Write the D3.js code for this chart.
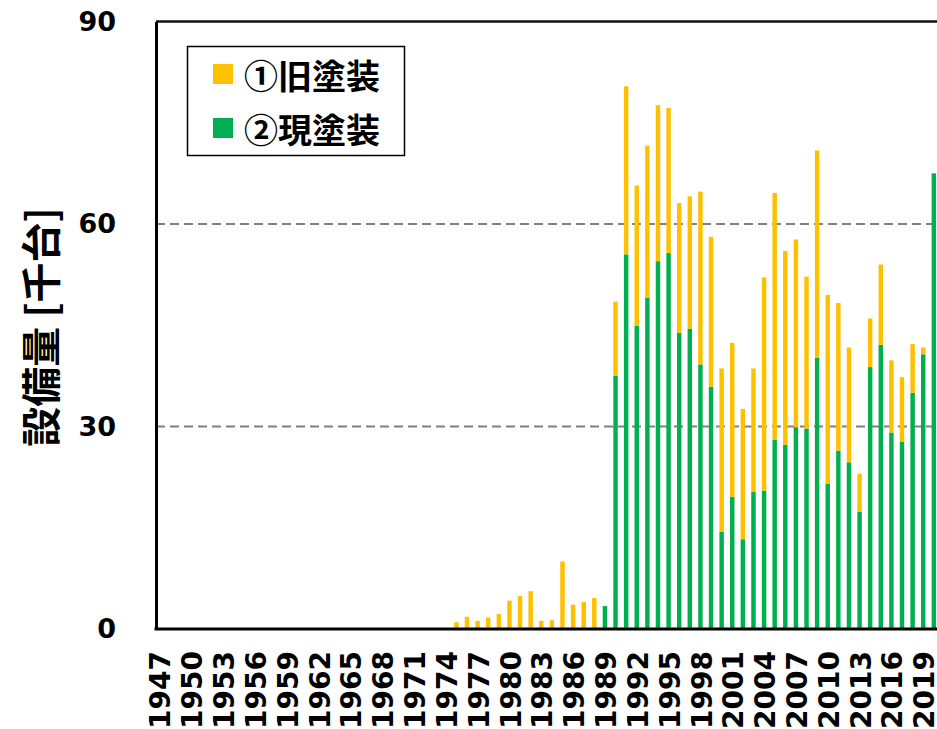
<!DOCTYPE html>
<html>
<head>
<meta charset="utf-8">
<script src="https://cdn.jsdelivr.net/npm/d3@7"></script>
<style>
  html, body { margin: 0; padding: 0; background: #fff; }
  svg { display: block; }
</style>
</head>
<body>
<svg id="chart" width="937" height="729"></svg>
<script>
// Installed equipment per year, thousand units
const years = [
  1947, 1948, 1949, 1950, 1951, 1952, 1953, 1954, 1955, 1956,
  1957, 1958, 1959, 1960, 1961, 1962, 1963, 1964, 1965, 1966,
  1967, 1968, 1969, 1970, 1971, 1972, 1973, 1974, 1975, 1976,
  1977, 1978, 1979, 1980, 1981, 1982, 1983, 1984, 1985, 1986,
  1987, 1988, 1989, 1990, 1991, 1992, 1993, 1994, 1995, 1996,
  1997, 1998, 1999, 2000, 2001, 2002, 2003, 2004, 2005, 2006,
  2007, 2008, 2009, 2010, 2011, 2012, 2013, 2014, 2015, 2016,
  2017, 2018, 2019, 2020
];

// ② current coating (bottom segment)
const currentCoating = [
  0, 0, 0, 0, 0, 0, 0, 0, 0, 0,
  0, 0, 0, 0, 0, 0, 0, 0, 0, 0,
  0, 0, 0, 0, 0, 0, 0, 0, 0, 0,
  0, 0, 0, 0, 0, 0, 0, 0, 0, 0,
  0, 0, 3.4, 37.5, 55.5, 44.9, 49.1, 54.5, 55.7, 43.9,
  44.5, 39.2, 35.9, 14.4, 19.6, 13.3, 20.3, 20.5, 28.0, 27.3,
  29.9, 29.7, 40.2, 21.5, 26.4, 24.7, 17.4, 38.8, 42.1, 29.1,
  27.7, 35.0, 40.7, 67.5
];

// ① old coating (stacked on top)
const oldCoating = [
  0, 0, 0, 0, 0, 0, 0, 0, 0, 0,
  0, 0, 0, 0, 0, 0, 0, 0, 0, 0,
  0, 0, 0, 0, 0, 0, 0, 0, 1.0, 1.8,
  1.2, 1.7, 2.2, 4.2, 4.9, 5.6, 1.2, 1.3, 10.0, 3.6,
  4.0, 4.6, 0, 11.0, 24.9, 20.8, 22.5, 23.1, 21.5, 19.2,
  19.6, 25.6, 22.2, 24.2, 22.8, 19.3, 18.3, 31.6, 36.6, 28.7,
  27.8, 22.5, 30.7, 28.0, 21.9, 17.0, 5.6, 7.2, 11.9, 10.7,
  9.6, 7.2, 1.0, 0
];

const yTicks = [0, 30, 60, 90];
const xTickLabels = [1947, 1950, 1953, 1956, 1959, 1962, 1965, 1968, 1971, 1974,
  1977, 1980, 1983, 1986, 1989, 1992, 1995, 1998, 2001, 2004, 2007, 2010, 2013, 2016, 2019];

const seriesNames = ["①旧塗装", "②現塗装"];
const seriesColors = ["#FFC000", "#00B050"];
const yTitle = "設備量 [千台]";

const rows = years.map((yr, i) => ({ year: yr, current: currentCoating[i], old: oldCoating[i] }));

const svg = d3.select("#chart");
const plot = { left: 156, right: 939, top: 21.5, bottom: 629 };

const x = d3.scaleBand()
  .domain(years)
  .range([154, 154 + years.length * 10.61])
  .paddingInner(0.58)
  .paddingOuter(0.29);

const y = d3.scaleLinear().domain([0, 90]).range([plot.bottom, plot.top]);

const numFont = "'DejaVu Sans', Verdana, sans-serif";
const cjkFont = "'Noto Sans CJK JP', 'Noto Sans', sans-serif";

// dashed gridlines
svg.append("g")
  .selectAll("line")
  .data(yTicks.filter(t => t > 0 && t < 90))
  .join("line")
  .attr("x1", plot.left).attr("x2", 937)
  .attr("y1", d => y(d)).attr("y2", d => y(d))
  .attr("stroke", "#808080")
  .attr("stroke-width", 2)
  .attr("stroke-dasharray", "9,5");

// stacked bars
const stack = d3.stack().keys(["current", "old"])(rows);
svg.append("g")
  .selectAll("g")
  .data(stack)
  .join("g")
  .attr("fill", (d, i) => seriesColors[1 - i])
  .selectAll("rect")
  .data(d => d.filter(s => s[1] - s[0] > 0))
  .join("rect")
  .attr("x", d => x(d.data.year))
  .attr("width", x.bandwidth())
  .attr("y", d => y(d[1]))
  .attr("height", d => y(d[0]) - y(d[1]));

// frame: top border, left and bottom axis lines
svg.append("line")
  .attr("x1", plot.left).attr("x2", 937)
  .attr("y1", y(90)).attr("y2", y(90))
  .attr("stroke", "#111").attr("stroke-width", 2.5);

const yAxis = d3.axisLeft(y).tickValues(yTicks).tickSize(0).tickPadding(40);
const gy = svg.append("g").attr("transform", `translate(${plot.left},0)`).call(yAxis);
gy.select(".domain").attr("stroke", "#000").attr("stroke-width", 3);
gy.selectAll("text")
  .attr("font-family", numFont)
  .attr("font-weight", "bold")
  .attr("font-size", 27)
  .attr("fill", "#000");

const xAxis = d3.axisBottom(x).tickValues(xTickLabels).tickSize(0).tickPadding(0);
const gx = svg.append("g").attr("transform", `translate(0,${plot.bottom})`).call(xAxis);
gx.select(".domain").remove();
gx.selectAll("text")
  .attr("font-family", numFont)
  .attr("font-weight", "bold")
  .attr("font-size", 28)
  .attr("fill", "#000")
  .attr("text-anchor", "end")
  .attr("dy", "0.36em")
  .attr("transform", "translate(1,22) rotate(-90)")
  .attr("x", 0)
  .attr("y", 0);

svg.append("line")
  .attr("x1", plot.left - 1.5).attr("x2", 937)
  .attr("y1", plot.bottom).attr("y2", plot.bottom)
  .attr("stroke", "#000").attr("stroke-width", 3);

// y-axis title
svg.append("text")
  .attr("transform", "translate(39,327) rotate(-90)")
  .attr("text-anchor", "middle")
  .attr("dominant-baseline", "central")
  .attr("font-family", cjkFont)
  .attr("font-weight", "bold")
  .attr("font-size", 40)
  .attr("fill", "#000")
  .text(yTitle);

// legend
const legend = svg.append("g");
legend.append("rect")
  .attr("x", 187.5).attr("y", 46.5)
  .attr("width", 217).attr("height", 109)
  .attr("fill", "#fff")
  .attr("stroke", "#000").attr("stroke-width", 1.5);

const legendItems = legend.selectAll("g.item")
  .data(seriesNames)
  .join("g")
  .attr("class", "item")
  .attr("transform", (d, i) => `translate(213,${64 + i * 54})`);

legendItems.append("rect")
  .attr("width", 20).attr("height", 20)
  .attr("fill", (d, i) => seriesColors[i]);

legendItems.append("text")
  .attr("x", 31).attr("y", 10)
  .attr("dominant-baseline", "central")
  .attr("font-family", cjkFont)
  .attr("font-weight", "bold")
  .attr("font-size", 34)
  .attr("fill", "#000")
  .text(d => d);
</script>
</body>
</html>
